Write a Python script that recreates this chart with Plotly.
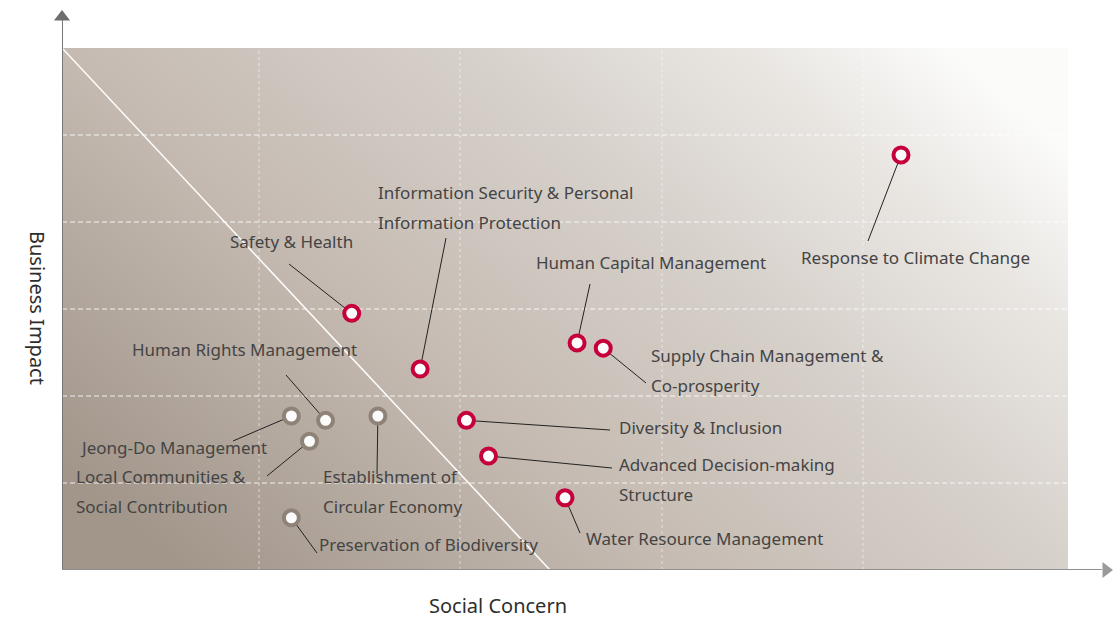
import base64
import plotly.graph_objects as go

# Materiality topics: social concern (x) vs business impact (y)
topics = [
    "Response to Climate Change",
    "Safety & Health",
    "Information Security & Personal Information Protection",
    "Human Capital Management",
    "Supply Chain Management & Co-prosperity",
    "Diversity & Inclusion",
    "Advanced Decision-making Structure",
    "Water Resource Management",
    "Jeong-Do Management",
    "Human Rights Management",
    "Establishment of Circular Economy",
    "Local Communities & Social Contribution",
    "Preservation of Biodiversity",
]
social_concern = [4.17, 1.44, 1.78, 2.56, 2.69, 2.01, 2.12, 2.50, 1.14, 1.31, 1.57, 1.23, 1.14]
business_impact = [4.77, 2.95, 2.31, 2.61, 2.55, 1.72, 1.31, 0.83, 1.77, 1.72, 1.77, 1.48, 0.60]
is_material = [True, True, True, True, True, True, True, True, False, False, False, False, False]

# label text split into lines
label_lines = [
    ["Response to Climate Change"],
    ["Safety & Health"],
    ["Information Security & Personal", "Information Protection"],
    ["Human Capital Management"],
    ["Supply Chain Management &", "Co-prosperity"],
    ["Diversity & Inclusion"],
    ["Advanced Decision-making", "Structure"],
    ["Water Resource Management"],
    ["Jeong-Do Management"],
    ["Human Rights Management"],
    ["Establishment of", "Circular Economy"],
    ["Local Communities &", "Social Contribution"],
    ["Preservation of Biodiversity"],
]

# pixel layout helpers (plot spans x 62..1114, y 570..9)
X0, X1, Y0, Y1 = 62, 1114, 570, 9
UX, UY = 201.2, 87.0
XMAX = (X1 - X0) / UX
YMAX = (Y0 - Y1) / UY
W, H = 1115, 618


def px(x, y):
    return (x - X0) / UX, (Y0 - y) / UY


# label placement (pixel: left edge, first-line centre) and leader-line ends
label_pos = [(800, 257), (229, 241), (377, 192), (535, 262), (650, 355), (618, 427),
             (618, 464), (585, 538), (79, 447), (131, 349), (322, 476), (75, 476), (318, 544)]
leader_end = [(868, 241), (289, 264), (446, 238), (590, 284), (646, 383), (610, 430),
              (612, 468), (580, 533), (233, 441), (286, 375), (377, 474), (267, 476), (317, 553)]
vgrid_px = [259, 460, 662, 863]

RED = "#c6003b"
GREY = "#8f8377"
FONT = "Noto Sans"

fig = go.Figure()

# background gradient
svg = (
    '<svg xmlns="http://www.w3.org/2000/svg" width="100" height="100" viewBox="0 0 100 100" '
    'preserveAspectRatio="none"><defs><linearGradient id="g" x1="0" y1="0.8" x2="1" y2="0.2">'
    '<stop offset="0" stop-color="#a2968b"/><stop offset="0.35" stop-color="#c4bab1"/>'
    '<stop offset="0.65" stop-color="#d7d1cb"/><stop offset="0.85" stop-color="#e9e6e2"/>'
    '<stop offset="1" stop-color="#fbfbfa"/></linearGradient></defs>'
    '<rect width="100" height="100" fill="url(#g)"/></svg>'
)
src = "data:image/svg+xml;base64," + base64.b64encode(svg.encode()).decode()
fig.add_layout_image(dict(source=src, xref="x", yref="y", x=0, y=6, sizex=5, sizey=6,
                          xanchor="left", yanchor="top", sizing="stretch", layer="below"))


def line_trace(xs, ys, color, width, dash="solid"):
    fig.add_trace(go.Scatter(x=xs, y=ys, mode="lines", hoverinfo="skip", showlegend=False,
                             line=dict(color=color, width=width, dash=dash)))


# grid
for gy in range(1, 6):
    line_trace([0, 5], [gy, gy], "rgba(255,255,255,0.85)", 1, "5px,3px")
for vx in vgrid_px:
    gx = px(vx, 0)[0]
    line_trace([gx, gx], [0, 6], "rgba(255,255,255,0.55)", 1, "3px,3px")

# diagonal threshold line
dx, _ = px(550, 570)
line_trace([0, dx], [6, 0], "white", 1.5)

# axes with arrows
fig.add_shape(type="line", x0=0, y0=0, x1=0, y1=px(0, 20)[1], line=dict(color="#777777", width=2))
fig.add_shape(type="line", x0=0, y0=0, x1=px(1102, 0)[0], y1=0, line=dict(color="#8f8f8f", width=2))
ax, ay = px(62, 17)
fig.add_trace(go.Scatter(x=[ax], y=[ay], mode="markers", hoverinfo="skip", showlegend=False,
                         cliponaxis=False,
                         marker=dict(symbol="triangle-up", size=14, color="#6e6e6e")))
bx, by = px(1106, 570)
fig.add_trace(go.Scatter(x=[bx], y=[by], mode="markers", hoverinfo="skip", showlegend=False,
                         cliponaxis=False,
                         marker=dict(symbol="triangle-right", size=14, color="#9a9a9a")))

# leader lines
for i in range(len(topics)):
    ex, ey = px(*leader_end[i])
    line_trace([social_concern[i], ex], [business_impact[i], ey], "#222222", 1)

# markers
fig.add_trace(go.Scatter(
    x=social_concern, y=business_impact, mode="markers", text=topics,
    hovertemplate="%{text}<extra></extra>", showlegend=False, cliponaxis=False,
    marker=dict(size=15, color="#fbfbfb",
                line=dict(width=4, color=[RED if m else GREY for m in is_material])),
))

# labels
for i, lines in enumerate(label_lines):
    lx, ly = label_pos[i]
    for j, t in enumerate(lines):
        x, y = px(lx - 1, ly + j * 30)
        fig.add_annotation(x=x, y=y, text=t, showarrow=False, xanchor="left", yanchor="middle",
                           font=dict(family=FONT, size=17, color="#444444"))

# axis titles (paper coords)
L, R, T, B = X0, W - X1, Y1, H - Y0
pw, ph = W - L - R, H - T - B


def paper(x, y):
    return (x - L) / pw, (H - B - y) / ph


tx, ty = paper(38, 308)
fig.add_annotation(x=tx, y=ty, xref="paper", yref="paper", text="Business Impact", showarrow=False,
                   textangle=90, xanchor="center", yanchor="middle",
                   font=dict(family=FONT, size=20, color="#2e2e2e"))
tx, ty = paper(498, 605)
fig.add_annotation(x=tx, y=ty, xref="paper", yref="paper", text="Social Concern", showarrow=False,
                   xanchor="center", yanchor="middle",
                   font=dict(family=FONT, size=20, color="#2e2e2e"))

fig.update_layout(
    width=W, height=H,
    margin=dict(l=L, r=R, t=T, b=B),
    paper_bgcolor="white", plot_bgcolor="white",
    xaxis=dict(range=[0, XMAX], visible=False, fixedrange=True),
    yaxis=dict(range=[0, YMAX], visible=False, fixedrange=True),
    font=dict(family=FONT),
)

fig.write_html("out.html", config={"displayModeBar": False},
               post_script="document.body.style.margin='0';")
